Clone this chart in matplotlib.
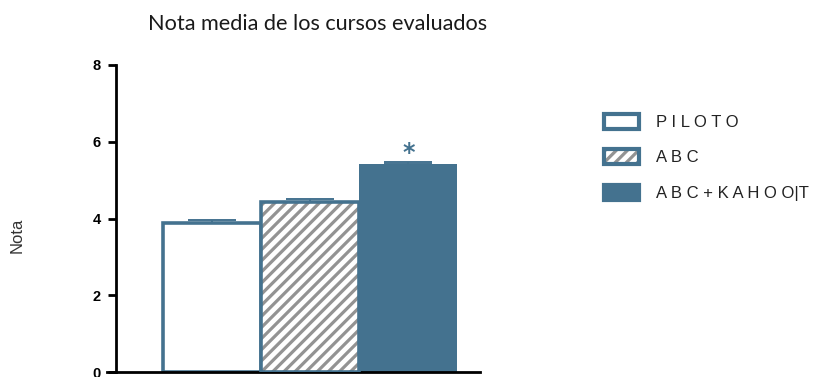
import matplotlib
matplotlib.use("Agg")
import matplotlib.pyplot as plt
from matplotlib.patches import Patch
from matplotlib.legend_handler import HandlerTuple

categories = ["P I L O T O", "A B C", "A B C + K A H O O|T"]
means = [3.88, 4.43, 5.42]
errors = [0.08, 0.07, 0.06]
yticks = [0, 2, 4, 6, 8]
title = "Nota media de los cursos evaluados"
ylabel = "Nota"

BLUE = "#44728f"
GRAY = "#939393"

plt.rcParams["hatch.linewidth"] = 2.3

W, H = 835, 377
fig = plt.figure(figsize=(W / 100, H / 100), dpi=100)

ax_l, ax_r, ax_b, ax_t = 116, 480, 372, 65
ax = fig.add_axes([ax_l / W, 1 - ax_b / H, (ax_r - ax_l) / W, (ax_b - ax_t) / H])
ax.patch.set_alpha(0)

x = list(range(len(categories)))

ax.bar(x[0], means[0], width=1.0, facecolor="white", edgecolor=BLUE, linewidth=2.6, zorder=2)
ax.bar(x[1], means[1], width=1.0, facecolor="white", edgecolor=GRAY, hatch="///", linewidth=0, zorder=2)
ax.bar(x[1], means[1], width=1.0, facecolor="none", edgecolor=BLUE, linewidth=2.6, zorder=3)
ax.bar(x[2], means[2], width=1.0, facecolor=BLUE, edgecolor=BLUE, linewidth=0, zorder=2)

ax.errorbar(x, means, yerr=[[0] * 3, errors], fmt="none", ecolor=BLUE, elinewidth=1.4,
            capsize=17, capthick=1.4, zorder=4)

ax.text(x[2], means[2] + 0.29, "*", ha="center", va="center", color=BLUE,
        fontsize=17, fontweight="bold", family="DejaVu Sans")

ax.set_xlim(-0.98, 2.73)
ax.set_ylim(0, 8)
ax.set_yticks(yticks)
ax.set_yticklabels([str(t) for t in yticks], fontweight="bold", fontsize=10.5, family="Liberation Sans")
ax.set_xticks([])
for s in ["top", "right"]:
    ax.spines[s].set_visible(False)
for s in ["left", "bottom"]:
    ax.spines[s].set_linewidth(2.0)
    ax.spines[s].set_color("black")
ax.spines["bottom"].set_bounds(-1.07, 2.73)
ax.spines["bottom"].set_clip_on(False)
ax.tick_params(axis="y", direction="out", length=6, width=2.0, pad=5, color="black")

t = fig.text(318 / W, 1 - 24 / H, title, ha="center", va="center", fontsize=14,
             family="Lato", color="#1a1a1a")
r = fig.canvas.get_renderer()
wpx = t.get_window_extent(r).width
t.set_fontsize(14 * 340 / wpx)

fig.text(17 / W, 1 - 235 / H, ylabel, ha="center", va="center", rotation=90,
         fontsize=12, family="Liberation Sans", color="#333333")

h1 = Patch(facecolor="white", edgecolor=BLUE, linewidth=3.0)
h2a = Patch(facecolor="white", edgecolor=GRAY, hatch="///", linewidth=0)
h2b = Patch(facecolor="none", edgecolor=BLUE, linewidth=3.0)
h3 = Patch(facecolor=BLUE, edgecolor=BLUE, linewidth=3.0)
leg = fig.legend([h1, (h2a, h2b), h3], categories,
                 handler_map={tuple: HandlerTuple(ndivide=1, pad=0)},
                 loc="upper left", bbox_to_anchor=(604 / W, 1 - 114 / H),
                 frameon=False, prop={"family": "Liberation Sans", "size": 12},
                 handlelength=2.1, handleheight=1.0, handletextpad=1.0,
                 labelspacing=1.15, borderpad=0, borderaxespad=0)
for tx in leg.get_texts():
    tx.set_color("#222222")

fig.savefig("out.png", dpi=100)
